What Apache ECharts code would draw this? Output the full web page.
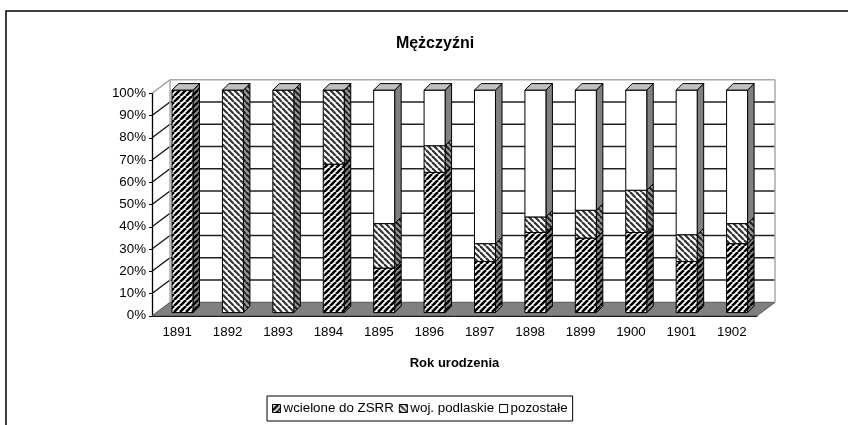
<!DOCTYPE html>
<html>
<head>
<meta charset="utf-8">
<style>html,body{margin:0;padding:0;background:#fff}#main{width:848px;height:425px}</style>
<script src="https://cdn.jsdelivr.net/npm/echarts@6/dist/echarts.min.js"></script>
</head>
<body>
<div id="main"></div>
<script>
var years = ['1891','1892','1893','1894','1895','1896','1897','1898','1899','1900','1901','1902'];
var yTicks = [0,10,20,30,40,50,60,70,80,90,100];
var wcielone = [100,0,0,66.7,20,63,23,36,33.5,36,23,31];
var podlaskie = [0,100,100,33.3,20,12,8,7,12.5,19,12,9];
var pozostale = [0,0,0,0,60,25,69,57,54,45,65,60];

var FONT = '"Liberation Sans", Arial, sans-serif';
// przesuniecia 3D (w pikselach)
var wallDx = 18, wallDy = -13.5;
var barDx = 5.3, barDy = -3.2, barW = 21, sideDx = 6.5, sideDy = -6.5;

function hatch(dir, line, bg, lw) {
    var s = 6, c = document.createElement('canvas');
    c.width = s; c.height = s;
    var ctx = c.getContext('2d');
    ctx.fillStyle = bg;
    ctx.fillRect(0, 0, s, s);
    ctx.strokeStyle = line;
    ctx.lineWidth = lw;
    for (var k = -1; k <= 1; k++) {
        ctx.beginPath();
        if (dir > 0) {
            ctx.moveTo(k * s, s); ctx.lineTo((k + 1) * s, 0);
        } else {
            ctx.moveTo(k * s, 0); ctx.lineTo((k + 1) * s, s);
        }
        ctx.stroke();
    }
    return {image: c, repeat: 'repeat'};
}

var styles = {
    'wcielone do ZSRR': {
        front: hatch(1, '#000', '#fff', 2.6),
        side: hatch(1, '#000', '#8c8c8c', 2.4)
    },
    'woj. podlaskie': {
        front: hatch(-1, '#333', '#fff', 2.2),
        side: hatch(-1, '#222', '#9a9a9a', 2.2)
    },
    'pozostałe': {
        front: '#fff',
        side: '#808080'
    }
};

function stacked(own, below) {
    return own.map(function (v, i) {
        var base = 0;
        below.forEach(function (arr) { base += arr[i]; });
        return [i, base, base + v];
    });
}

function renderBar(name) {
    return function (params, api) {
        var i = api.value(0), lo = api.value(1), hi = api.value(2);
        if (hi - lo <= 0) return null;
        var a = api.coord([i, lo]), b = api.coord([i, hi]);
        var x0 = a[0] + barDx - barW / 2, x1 = x0 + barW;
        var y0 = a[1] + barDy, y1 = b[1] + barDy;
        var st = styles[name];
        var border = {stroke: '#000', lineWidth: 1};
        var kids = [
            {type: 'polygon',
             shape: {points: [[x1, y0], [x1 + sideDx, y0 + sideDy], [x1 + sideDx, y1 + sideDy], [x1, y1]]},
             style: Object.assign({fill: st.side}, border)},
            {type: 'rect', shape: {x: x0, y: y1, width: barW, height: y0 - y1},
             style: Object.assign({fill: st.front}, border)}
        ];
        if (hi >= 99.9) {
            kids.push({type: 'polygon',
                shape: {points: [[x0, y1], [x0 + sideDx, y1 + sideDy], [x1 + sideDx, y1 + sideDy], [x1, y1]]},
                style: Object.assign({fill: '#c0c0c0'}, border)});
        }
        return {type: 'group', children: kids};
    };
}

function renderWall(params, api) {
    var v = api.value(0);
    var p = api.coord([0, v]);
    var xL = params.coordSys.x, xR = xL + params.coordSys.width;
    var y = p[1];
    var kids = [];
    if (v === 0) {
        kids.push({type: 'polygon',
            shape: {points: [[xL, y], [xL + wallDx, y + wallDy], [xR + wallDx, y + wallDy], [xR, y]]},
            style: {fill: '#808080', stroke: '#555', lineWidth: 1}});
        return {type: 'group', children: kids};
    }
    var top = v === 100;
    var col = top ? '#999' : '#111';
    kids.push({type: 'line', shape: {x1: xL, y1: y, x2: xL + wallDx, y2: y + wallDy},
        style: {stroke: col, lineWidth: 1.3}});
    kids.push({type: 'line', shape: {x1: xL + wallDx, y1: y + wallDy, x2: xR + wallDx, y2: y + wallDy},
        style: {stroke: top ? '#aaa' : '#222', lineWidth: top ? 1.5 : 1.4}});
    if (top) {
        var yBack = api.coord([0, 0])[1] + wallDy;
        kids.push({type: 'line', shape: {x1: xL + wallDx, y1: y + wallDy, x2: xL + wallDx, y2: yBack},
            style: {stroke: '#aaa', lineWidth: 1.5}});
        kids.push({type: 'line', shape: {x1: xR + wallDx, y1: y + wallDy, x2: xR + wallDx, y2: yBack},
            style: {stroke: '#aaa', lineWidth: 1.5}});
    }
    return {type: 'group', children: kids};
}

var myChart = echarts.init(document.getElementById('main'));

function barSeries(name, data) {
    return {
        name: name,
        type: 'custom',
        renderItem: renderBar(name),
        data: data,
        encode: {x: 0, y: [1, 2]},
        z: 5,
        clip: false
    };
}

function legendItem(name) {
    return {name: name, icon: 'rect',
        itemStyle: {color: styles[name].front, borderColor: '#000', borderWidth: 1}};
}

var option = {
    animation: false,
    backgroundColor: '#fff',
    title: {
        text: 'Mężczyźni',
        left: 430,
        textAlign: 'center',
        top: 31,
        textStyle: {fontFamily: FONT, fontSize: 16, fontWeight: 'bold', color: '#000'}
    },
    legend: {
        left: 267,
        top: 396,
        width: 330,
        itemWidth: 8,
        itemHeight: 8,
        itemGap: 5,
        padding: [6, 5, 6, 5],
        borderColor: '#000',
        borderWidth: 1,
        selectedMode: false,
        textStyle: {fontFamily: FONT, fontSize: 13.33, color: '#000', padding: [0, 0, 0, -2]},
        data: ['wcielone do ZSRR', 'woj. podlaskie', 'pozostałe'].map(legendItem)
    },
    grid: {left: 152, right: 91, top: 93.3, bottom: 109.2, containLabel: false},
    xAxis: {
        type: 'category',
        data: years,
        name: 'Rok urodzenia',
        nameLocation: 'middle',
        nameGap: 41,
        nameTextStyle: {fontFamily: FONT, fontSize: 13, fontWeight: 'bold', color: '#000'},
        axisLine: {lineStyle: {color: '#000', width: 1}},
        axisTick: {length: 4, lineStyle: {color: '#000'}},
        axisLabel: {fontFamily: FONT, fontSize: 13.33, color: '#000', margin: 10}
    },
    yAxis: {
        type: 'value',
        min: 0,
        max: 100,
        interval: 10,
        axisLine: {show: true, lineStyle: {color: '#000', width: 1.3}},
        axisTick: {show: true, length: 3, lineStyle: {color: '#000'}},
        splitLine: {show: false},
        axisLabel: {formatter: '{value}%', fontFamily: FONT, fontSize: 13.33, color: '#000', margin: 6}
    },
    graphic: [{
        type: 'polyline',
        silent: true,
        shape: {points: [[6, 425], [6, 11], [848, 11]]},
        style: {fill: null, stroke: '#000', lineWidth: 1.5}
    }],
    series: [
        {
            name: 'walls',
            type: 'custom',
            renderItem: renderWall,
            data: yTicks.map(function (t) { return [t]; }),
            encode: {y: 0},
            silent: true,
            z: 1,
            clip: false
        },
        barSeries('wcielone do ZSRR', stacked(wcielone, [])),
        barSeries('woj. podlaskie', stacked(podlaskie, [wcielone])),
        barSeries('pozostałe', stacked(pozostale, [wcielone, podlaskie]))
    ]
};
myChart.setOption(option);

window.addEventListener('resize', function () {
    myChart.resize();
});
</script>
</body>
</html>
